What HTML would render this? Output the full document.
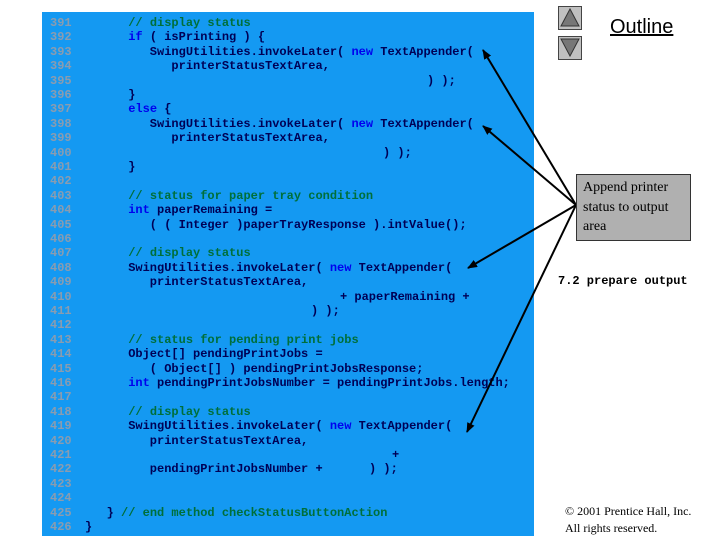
<!DOCTYPE html>
<html><head><meta charset="utf-8"><style>
body{margin:0;width:720px;height:540px;background:#fff;position:relative;overflow:hidden;font-family:"Liberation Mono",monospace}
#bg{position:absolute;left:42px;top:12px;width:492px;height:524px;background:#1499f2}
.l{position:absolute;font:bold 12px/14.4px "Liberation Mono",monospace;white-space:pre;color:#000055}
.n{color:#8a9cb0;left:50px}
.k{color:#0000ee}.c{color:#006f3a}
</style></head><body>
<div id="bg"></div>
<div id="code"></div>
<script>
var L=[
["391","      <span class=c>// display status</span>"],
["392","      <span class=k>if</span> ( isPrinting ) {"],
["393","         SwingUtilities.invokeLater( <span class=k>new</span> TextAppender("],
["394","            printerStatusTextArea,"],
["395","",[427,") );"]],
["396","      }"],
["397","      <span class=k>else</span> {"],
["398","         SwingUtilities.invokeLater( <span class=k>new</span> TextAppender("],
["399","            printerStatusTextArea,"],
["400","",[383,") );"]],
["401","      }"],
["402",""],
["403","      <span class=c>// status for paper tray condition</span>"],
["404","      <span class=k>int</span> paperRemaining ="],
["405","         ( ( Integer )paperTrayResponse ).intValue();"],
["406",""],
["407","      <span class=c>// display status</span>"],
["408","      SwingUtilities.invokeLater( <span class=k>new</span> TextAppender("],
["409","         printerStatusTextArea,"],
["410","",[340,"+ paperRemaining +"]],
["411","",[311,") );"]],
["412",""],
["413","      <span class=c>// status for pending print jobs</span>"],
["414","      Object[] pendingPrintJobs ="],
["415","         ( Object[] ) pendingPrintJobsResponse;"],
["416","      <span class=k>int</span> pendingPrintJobsNumber = pendingPrintJobs.length;"],
["417",""],
["418","      <span class=c>// display status</span>"],
["419","      SwingUtilities.invokeLater( <span class=k>new</span> TextAppender("],
["420","         printerStatusTextArea,"],
["421","",[392,"+"]],
["422","         pendingPrintJobsNumber +",[369,") );"]],
["423",""],
["424",""],
["425","   } <span class=c>// end method checkStatusButtonAction</span>"],
["426","}"]];
var h="";
L.forEach(function(r,i){var t=16+14.4*i;
h+='<div class="l n" style="top:'+t+'px">'+r[0]+'</div>';
h+='<div class="l" style="left:85px;top:'+t+'px">'+r[1]+'</div>';
if(r[2])h+='<div class="l" style="left:'+r[2][0]+'px;top:'+t+'px">'+r[2][1]+'</div>';});
document.getElementById('code').innerHTML=h;
</script>
<div style="position:absolute;left:558px;top:6px;width:22px;height:22px;background:#c0c0c0;border:1px solid #444"></div>
<div style="position:absolute;left:558px;top:36px;width:22px;height:22px;background:#c0c0c0;border:1px solid #444"></div>
<svg style="position:absolute;left:0;top:0" width="720" height="540">
<polygon points="570,9 561,26 579,26" fill="#777" stroke="#333"/>
<polygon points="570,56 561,39 579,39" fill="#777" stroke="#333"/>
<defs><marker id="a" markerUnits="userSpaceOnUse" markerWidth="10" markerHeight="8" refX="9" refY="4" orient="auto"><path d="M0,0L10,4L0,8z" fill="#000"/></marker></defs>
<g stroke="#000" stroke-width="2" marker-end="url(#a)">
<line x1="576" y1="205" x2="483" y2="50"/>
<line x1="576" y1="205" x2="483" y2="126"/>
<line x1="576" y1="205" x2="468" y2="268"/>
<line x1="576" y1="205" x2="467" y2="432"/>
</g></svg>
<div style="position:absolute;left:610px;top:16px;font:20px 'Liberation Sans',sans-serif;text-decoration:underline">Outline</div>
<div style="position:absolute;left:576px;top:174px;background:#b0b0b0;border:1px solid #333;padding:3px 0 0 6px;box-sizing:content-box;font:14px/19.5px 'Liberation Serif',serif;width:107px;height:62px">Append printer status to output area</div>
<div style="position:absolute;left:558px;top:274px;font:bold 12px 'Liberation Mono',monospace">7.2 prepare output</div>
<div style="position:absolute;left:565px;top:503px;font:12px/17px 'Liberation Serif',serif">© 2001 Prentice Hall, Inc.<br>All rights reserved.</div>
</body></html>
